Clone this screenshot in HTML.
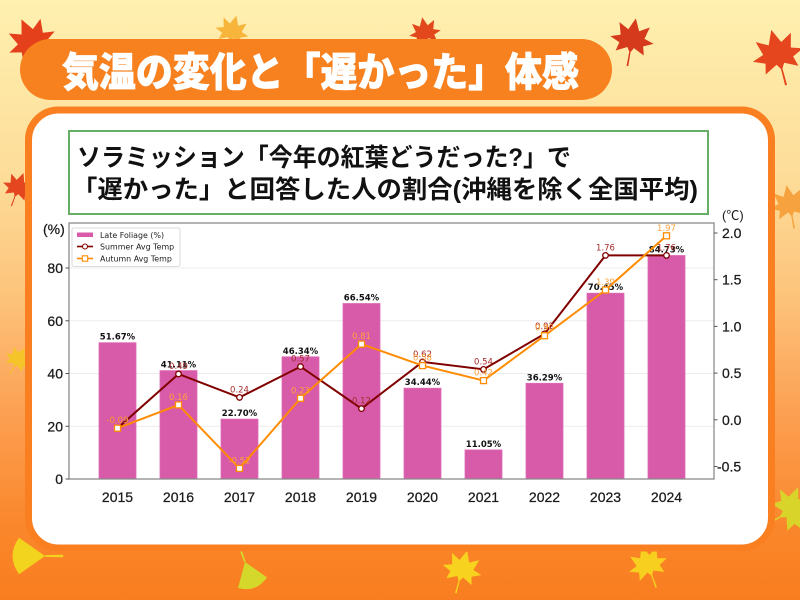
<!DOCTYPE html>
<html><head><meta charset="utf-8"><style>
html,body{margin:0;padding:0;width:800px;height:600px;overflow:hidden;background:#fde9a8}
svg{display:block}
.cj{font-family:"Liberation Sans","Noto Sans CJK JP",sans-serif}
.tk{font-family:"Liberation Sans",sans-serif;font-size:14px;fill:#1a1a1a;stroke:#1a1a1a;stroke-width:0.25}
.bl{font-family:"DejaVu Sans",sans-serif;font-size:8.5px;font-weight:bold;fill:#111}
.sl{font-family:"DejaVu Sans",sans-serif;font-size:8.5px;fill:#a52a2a}
.al{font-family:"DejaVu Sans",sans-serif;font-size:8.5px;fill:#ffa23a}
.lg{font-family:"DejaVu Sans",sans-serif;font-size:7.9px;fill:#222}
</style></head><body>
<svg width="800" height="600" viewBox="0 0 800 600" xmlns="http://www.w3.org/2000/svg">
<defs>
<linearGradient id="bg" x1="0" y1="0" x2="0" y2="1">
<stop offset="0" stop-color="#fff0b0"/>
<stop offset="0.3" stop-color="#fddc98"/>
<stop offset="0.5" stop-color="#fdc27a"/>
<stop offset="0.7" stop-color="#fc9e50"/>
<stop offset="0.88" stop-color="#fa862b"/>
<stop offset="1" stop-color="#f97e1f"/>
</linearGradient>
<path id="maple" d="M0,-20 L5,-9 L14,-14 L11,-3 L20,0 L11,4 L13,12 L3,7 L0,12 L-3,7 L-13,12 L-11,4 L-20,0 L-11,-3 L-14,-14 L-5,-9 Z M-0.6,10 L0.6,10 L0.8,24 L-0.8,24 Z"/>
<path id="ginkgo" d="M0,0 L-14,-20 Q0,-30 14,-20 Z M-0.7,0 L0.7,0 L1,14 L-1,14 Z"/>
</defs>
<rect x="0" y="0" width="800" height="600" fill="url(#bg)"/>

<!-- leaves -->
<use href="#maple" transform="translate(32,42) rotate(-25) scale(1.25)" fill="#e5401c"/>
<use href="#maple" transform="translate(232,32) rotate(15) scale(0.85)" fill="#f8b53c"/>
<use href="#maple" transform="translate(425,33) rotate(-10) scale(0.8)" fill="#e2481c"/>
<use href="#maple" transform="translate(632,40) rotate(10) scale(1.1)" fill="#d63a1c"/>
<use href="#maple" transform="translate(778,55) rotate(-15) scale(1.3)" fill="#e6461d"/>
<use href="#maple" transform="translate(18,188) rotate(20) scale(0.8)" fill="#e44620"/>
<use href="#maple" transform="translate(790,205) rotate(-10) scale(1)" fill="#f6a23e"/>
<use href="#maple" transform="translate(18,360) rotate(30) scale(0.7)" fill="#f5c428"/>
<use href="#ginkgo" transform="translate(45,556) rotate(-90) scale(1.3)" fill="#f2d41e"/>
<use href="#ginkgo" transform="translate(245,562) rotate(160) scale(1.1)" fill="#d4d82a"/>
<use href="#maple" transform="translate(462,570) rotate(15) scale(1.0)" fill="#f7d21e"/>
<use href="#maple" transform="translate(648,565) rotate(-20) scale(1.0)" fill="#f7cf1e"/>
<use href="#maple" transform="translate(792,510) rotate(60) scale(1.2)" fill="#d8d42a"/>

<!-- title pill -->
<rect x="20" y="39" width="592" height="61" rx="30.5" fill="#f7801f"/>
<text x="62" y="86" class="cj" font-size="40" font-weight="900" fill="#fff" stroke="#fff" stroke-width="0.8" textLength="517" lengthAdjust="spacingAndGlyphs">気温の変化と「遅かった」体感</text>

<!-- panel -->
<rect x="28.5" y="110" width="743" height="438" rx="30" fill="#fff" stroke="#f97f20" stroke-width="7"/>

<!-- subtitle box -->
<rect x="69" y="131" width="639" height="83" fill="#fff" stroke="#66ad66" stroke-width="2"/>
<text x="77" y="166" class="cj" font-size="25" font-weight="bold" fill="#111" textLength="494" lengthAdjust="spacingAndGlyphs">ソラミッション「今年の紅葉どうだった?」で</text>
<text x="72" y="198" class="cj" font-size="25" font-weight="bold" fill="#111" textLength="626" lengthAdjust="spacingAndGlyphs">「遅かった」と回答した人の割合(沖縄を除く全国平均)</text>

<!-- axes grid -->
<g stroke="#ececec" stroke-width="1">
<line x1="69" x2="714" y1="426.25" y2="426.25"/>
<line x1="69" x2="714" y1="373.5" y2="373.5"/>
<line x1="69" x2="714" y1="320.75" y2="320.75"/>
<line x1="69" x2="714" y1="268" y2="268"/>
</g>

<!-- bars -->
<g fill="#d75ba9" stroke="#e06bb6" stroke-width="0.8">
<rect x="99" y="342.7" width="37" height="136.3"/>
<rect x="160" y="370.6" width="37" height="108.4"/>
<rect x="221" y="419.1" width="37" height="59.9"/>
<rect x="282" y="356.8" width="37" height="122.2"/>
<rect x="343" y="303.5" width="37" height="175.5"/>
<rect x="404" y="388.2" width="37" height="90.8"/>
<rect x="465" y="449.9" width="37" height="29.1"/>
<rect x="526" y="383.3" width="37" height="95.7"/>
<rect x="587" y="293.2" width="37" height="185.8"/>
<rect x="648" y="255.5" width="37" height="223.5"/>
</g>

<!-- bar labels -->
<g class="bl" text-anchor="middle">
<text x="117.5" y="339.7">51.67%</text>
<text x="178.5" y="367.6">41.11%</text>
<text x="239.5" y="416.1">22.70%</text>
<text x="300.5" y="353.8">46.34%</text>
<text x="361.5" y="300.5">66.54%</text>
<text x="422.5" y="385.2">34.44%</text>
<text x="483.5" y="446.9">11.05%</text>
<text x="544.5" y="380.3">36.29%</text>
<text x="605.5" y="290.2">70.45%</text>
<text x="666.5" y="252.5">84.73%</text>
</g>

<!-- spines -->
<rect x="69" y="223" width="645" height="256" fill="none" stroke="#8c8c8c" stroke-width="1.3"/>

<!-- ticks -->
<g stroke="#555" stroke-width="1">
<line x1="65.5" x2="69" y1="479" y2="479"/>
<line x1="65.5" x2="69" y1="426.25" y2="426.25"/>
<line x1="65.5" x2="69" y1="373.5" y2="373.5"/>
<line x1="65.5" x2="69" y1="320.75" y2="320.75"/>
<line x1="65.5" x2="69" y1="268" y2="268"/>
<line x1="714" x2="717.5" y1="233" y2="233"/>
<line x1="714" x2="717.5" y1="279.7" y2="279.7"/>
<line x1="714" x2="717.5" y1="326.4" y2="326.4"/>
<line x1="714" x2="717.5" y1="373.1" y2="373.1"/>
<line x1="714" x2="717.5" y1="419.8" y2="419.8"/>
<line x1="714" x2="717.5" y1="466.5" y2="466.5"/>
</g>

<!-- left tick labels -->
<g class="tk" text-anchor="end">
<text x="63" y="484">0</text>
<text x="63" y="431.25">20</text>
<text x="63" y="378.5">40</text>
<text x="63" y="325.75">60</text>
<text x="63" y="273">80</text>
</g>
<text x="43" y="234" class="tk" font-size="13">(%)</text>
<!-- right tick labels -->
<g class="tk">
<text x="722" y="238">2.0</text>
<text x="722" y="284.7">1.5</text>
<text x="722" y="331.4">1.0</text>
<text x="722" y="378.1">0.5</text>
<text x="722" y="424.8">0.0</text>
<text x="717" y="471.5">-0.5</text>
</g>
<text x="722" y="220" class="cj" font-size="13" fill="#1a1a1a">(℃)</text>

<!-- x labels -->
<g class="tk" text-anchor="middle">
<text x="117.5" y="502">2015</text>
<text x="178.5" y="502">2016</text>
<text x="239.5" y="502">2017</text>
<text x="300.5" y="502">2018</text>
<text x="361.5" y="502">2019</text>
<text x="422.5" y="502">2020</text>
<text x="483.5" y="502">2021</text>
<text x="544.5" y="502">2022</text>
<text x="605.5" y="502">2023</text>
<text x="666.5" y="502">2024</text>
</g>

<!-- summer line -->
<polyline fill="none" stroke="#800000" stroke-width="2" points="117.5,428.2 178.5,374 239.5,397.4 300.5,366.6 361.5,408.6 422.5,361.9 483.5,369.4 544.5,333.9 605.5,255.4 666.5,255.4"/>
<g fill="#fff" stroke="#800000" stroke-width="1.3">
<circle cx="117.5" cy="428.2" r="2.8"/>
<circle cx="178.5" cy="374" r="2.8"/>
<circle cx="239.5" cy="397.4" r="2.8"/>
<circle cx="300.5" cy="366.6" r="2.8"/>
<circle cx="361.5" cy="408.6" r="2.8"/>
<circle cx="422.5" cy="361.9" r="2.8"/>
<circle cx="483.5" cy="369.4" r="2.8"/>
<circle cx="544.5" cy="333.9" r="2.8"/>
<circle cx="605.5" cy="255.4" r="2.8"/>
<circle cx="666.5" cy="255.4" r="2.8"/>
</g>

<!-- autumn line -->
<polyline fill="none" stroke="#ff8c00" stroke-width="2" points="117.5,428.2 178.5,404.9 239.5,468.4 300.5,398.3 361.5,344.1 422.5,365.6 483.5,380.6 544.5,335.7 605.5,290 666.5,235.8"/>
<g fill="#fff" stroke="#ff8c00" stroke-width="1.3">
<rect x="114.5" y="425.2" width="6" height="6"/>
<rect x="175.5" y="401.9" width="6" height="6"/>
<rect x="236.5" y="465.4" width="6" height="6"/>
<rect x="297.5" y="395.3" width="6" height="6"/>
<rect x="358.5" y="341.1" width="6" height="6"/>
<rect x="419.5" y="362.6" width="6" height="6"/>
<rect x="480.5" y="377.6" width="6" height="6"/>
<rect x="541.5" y="332.7" width="6" height="6"/>
<rect x="602.5" y="287" width="6" height="6"/>
<rect x="663.5" y="232.8" width="6" height="6"/>
</g>

<!-- line labels -->
<g class="sl" text-anchor="middle">
<text x="117.5" y="423.2">-0.09</text>
<text x="178.5" y="369">0.49</text>
<text x="239.5" y="392.4">0.24</text>
<text x="300.5" y="361.6">0.57</text>
<text x="361.5" y="403.6">0.12</text>
<text x="422.5" y="356.9">0.62</text>
<text x="483.5" y="364.4">0.54</text>
<text x="544.5" y="328.9">0.92</text>
<text x="605.5" y="250.4">1.76</text>
<text x="666.5" y="250.4">1.76</text>
</g>
<g class="al" text-anchor="middle">
<text x="117.5" y="423.2">-0.09</text>
<text x="178.5" y="399.9">0.16</text>
<text x="239.5" y="463.4">-0.52</text>
<text x="300.5" y="393.3">0.23</text>
<text x="361.5" y="339.1">0.81</text>
<text x="422.5" y="360.6">0.58</text>
<text x="483.5" y="375.6">0.42</text>
<text x="544.5" y="330.7">0.90</text>
<text x="605.5" y="285">1.39</text>
<text x="666.5" y="230.8">1.97</text>
</g>

<!-- legend -->
<rect x="72" y="228" width="108" height="38.5" rx="2" fill="#fff" fill-opacity="0.9" stroke="#d0d0d0" stroke-width="0.8"/>
<rect x="77" y="232.5" width="16" height="4.5" fill="#d75ba9"/>
<text x="100" y="237.8" class="lg">Late Foliage (%)</text>
<line x1="77" x2="93" y1="246.5" y2="246.5" stroke="#800000" stroke-width="1.6"/>
<circle cx="85" cy="246.5" r="2.5" fill="#fff" stroke="#800000" stroke-width="1.1"/>
<text x="100" y="249.3" class="lg">Summer Avg Temp</text>
<line x1="77" x2="93" y1="258.5" y2="258.5" stroke="#ff8c00" stroke-width="1.6"/>
<rect x="82.3" y="255.8" width="5.4" height="5.4" fill="#fff" stroke="#ff8c00" stroke-width="1.1"/>
<text x="100" y="261.3" class="lg">Autumn Avg Temp</text>
</svg>
</body></html>
